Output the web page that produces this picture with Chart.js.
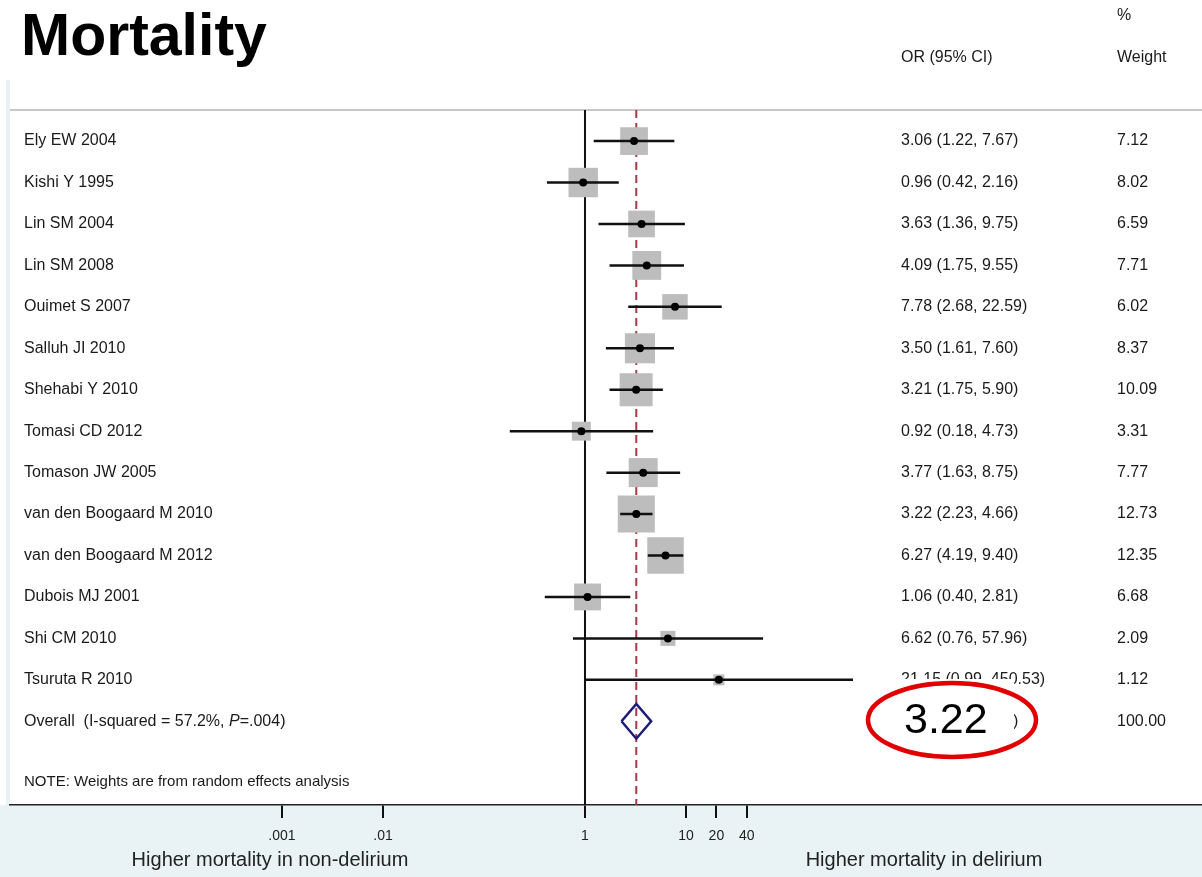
<!DOCTYPE html>
<html>
<head>
<meta charset="utf-8">
<script src="https://cdn.jsdelivr.net/npm/chart.js@4.4.1/dist/chart.umd.min.js"></script>
<style>
  body { margin: 0; background: #fff; }
  canvas { display: block; }
</style>
</head>
<body>
<canvas id="forest" width="1202" height="877"></canvas>
<script>
// studies, top to bottom
const studies = ['Ely EW 2004', 'Kishi Y 1995', 'Lin SM 2004', 'Lin SM 2008', 'Ouimet S 2007',
  'Salluh JI 2010', 'Shehabi Y 2010', 'Tomasi CD 2012', 'Tomason JW 2005', 'van den Boogaard M 2010',
  'van den Boogaard M 2012', 'Dubois MJ 2001', 'Shi CM 2010', 'Tsuruta R 2010']
const oddsRatio = [3.06, 0.96, 3.63, 4.09, 7.78, 3.50, 3.21, 0.92, 3.77, 3.22, 6.27, 1.06, 6.62, 21.15]
const ciLow = [1.22, 0.42, 1.36, 1.75, 2.68, 1.61, 1.75, 0.18, 1.63, 2.23, 4.19, 0.40, 0.76, 0.99]
const ciHigh = [7.67, 2.16, 9.75, 9.55, 22.59, 7.60, 5.90, 4.73, 8.75, 4.66, 9.40, 2.81, 57.96, 450.53]
const weights = [7.12, 8.02, 6.59, 7.71, 6.02, 8.37, 10.09, 3.31, 7.77, 12.73, 12.35, 6.68, 2.09, 1.12]

const overallOR = 3.22
const overallLow = 2.30
const overallHigh = 4.52
const overallWeight = 100.00

const tickVals = [0.001, 0.01, 1, 10, 20, 40]
const tickLabels = ['.001', '.01', '1', '10', '20', '40']

const FONT = "'Liberation Sans', Arial, sans-serif"
const overallRow = studies.length
const noteRow = 15.45

// ci lines, one per study
const ciSets = studies.map((s, i) => ({
  type: 'line',
  data: [{x: ciLow[i], y: i}, {x: ciHigh[i], y: i}],
  borderColor: '#111',
  borderWidth: 2.5,
  pointRadius: 0,
  order: 1
}))

const datasets = [
  {
    type: 'scatter',
    data: oddsRatio.map((v, i) => ({x: v, y: i})),
    pointStyle: 'circle',
    pointRadius: 4,
    backgroundColor: '#000',
    borderWidth: 0,
    order: 0
  },
  ...ciSets,
  {
    type: 'scatter',
    data: oddsRatio.map((v, i) => ({x: v, y: i})),
    pointStyle: 'rect',
    pointRadius: ctx => 7.35 * Math.sqrt(weights[ctx.dataIndex]),
    backgroundColor: '#bdbdbd',
    borderWidth: 0,
    order: 2
  },
  {
    // overall diamond
    type: 'line',
    data: [
      {x: overallLow, y: overallRow}, {x: overallOR, y: overallRow - 0.42},
      {x: overallHigh, y: overallRow}, {x: overallOR, y: overallRow + 0.42},
      {x: overallLow, y: overallRow}
    ],
    borderColor: '#1c1c78',
    borderWidth: 2.5,
    pointRadius: 0,
    fill: false,
    order: 1
  },
  {
    // line of no effect
    type: 'line',
    data: [{x: 1, y: -0.75}, {x: 1, y: 16.02}],
    borderColor: '#111',
    borderWidth: 2,
    pointRadius: 0,
    order: 3
  },
  {
    // overall estimate
    type: 'line',
    data: [{x: overallOR, y: -0.75}, {x: overallOR, y: 16.02}],
    borderColor: '#a23a4a',
    borderWidth: 2,
    borderDash: [8, 5],
    pointRadius: 0,
    order: 3
  }
]

const textPlugin = {
  id: 'forestText',
  beforeDraw(chart) {
    const ctx = chart.ctx
    ctx.save()
    ctx.fillStyle = '#e9f2f4'
    ctx.fillRect(0, chart.chartArea.bottom, chart.width, chart.height - chart.chartArea.bottom)
    ctx.fillRect(6, 80, 4, chart.chartArea.bottom - 80)
    ctx.strokeStyle = '#c8c8c8'
    ctx.lineWidth = 2
    ctx.beginPath()
    ctx.moveTo(10, chart.chartArea.top)
    ctx.lineTo(chart.width, chart.chartArea.top)
    ctx.stroke()
    ctx.restore()
  },
  afterDraw(chart) {
    const ctx = chart.ctx
    const y = chart.scales.y
    ctx.save()

    // title
    ctx.fillStyle = '#000'
    ctx.font = 'bold 59px ' + FONT
    ctx.textBaseline = 'alphabetic'
    ctx.fillText('Mortality', 21, 55)

    ctx.textBaseline = 'middle'
    ctx.font = '16px ' + FONT
    ctx.fillStyle = '#1a1a1a'
    ctx.fillText('%', 1117, 16)
    ctx.fillText('OR (95% CI)', 901, 58)
    ctx.fillText('Weight', 1117, 58)

    studies.forEach((s, i) => {
      const py = y.getPixelForValue(i)
      ctx.fillText(s, 24, py)
      ctx.fillText(oddsRatio[i].toFixed(2) + ' (' + ciLow[i].toFixed(2) + ', ' + ciHigh[i].toFixed(2) + ')', 901, py)
      ctx.fillText(weights[i].toFixed(2), 1117, py)
    })

    // overall row
    let py = y.getPixelForValue(overallRow)
    let part1 = 'Overall  (I-squared = 57.2%, '
    ctx.fillText(part1, 24, py)
    let px = 24 + ctx.measureText(part1).width
    ctx.font = 'italic 16px ' + FONT
    ctx.fillText('P', px, py)
    px += ctx.measureText('P').width
    ctx.font = '16px ' + FONT
    ctx.fillText('=.004)', px, py)
    ctx.fillText(overallOR.toFixed(2) + ' (' + overallLow.toFixed(2) + ', ' + overallHigh.toFixed(2) + ')', 901, py)
    ctx.fillText(overallWeight.toFixed(2), 1117, py)

    ctx.font = '15px ' + FONT
    ctx.fillText('NOTE: Weights are from random effects analysis', 24, y.getPixelForValue(noteRow))

    // axis captions
    ctx.font = '20px ' + FONT
    ctx.textAlign = 'center'
    ctx.fillStyle = '#222'
    ctx.fillText('Higher mortality in non-delirium', 270, 860)
    ctx.fillText('Higher mortality in delirium', 924, 860)

    // highlight box over the overall estimate
    ctx.fillStyle = '#fff'
    ctx.fillRect(880, 679, 134, 82)
    ctx.strokeStyle = '#e00000'
    ctx.lineWidth = 4.5
    ctx.beginPath()
    ctx.ellipse(952, 720, 84, 37, 0, 0, Math.PI * 2)
    ctx.stroke()
    ctx.fillStyle = '#000'
    ctx.font = '43px ' + FONT
    ctx.textAlign = 'left'
    ctx.textBaseline = 'alphabetic'
    ctx.fillText(overallOR.toFixed(2), 904, 733)

    ctx.restore()
  }
}

new Chart(document.getElementById('forest'), {
  data: { datasets: datasets },
  options: {
    responsive: false,
    animation: false,
    devicePixelRatio: 1,
    layout: { autoPadding: false, padding: { top: 110, left: 10, right: 0, bottom: 0 } },
    plugins: { legend: { display: false }, tooltip: { enabled: false } },
    scales: {
      x: {
        type: 'logarithmic',
        min: Math.pow(10, -5.693),
        max: Math.pow(10, 6.109),
        afterBuildTicks: s => { s.ticks = tickVals.map(v => ({ value: v })) },
        afterFit: s => {
          s.height = 72
          s.paddingLeft = 0
          s.paddingRight = 0
        },
        ticks: {
          callback: (v, i) => tickLabels[i],
          color: '#222',
          font: { family: FONT, size: 14 },
          padding: 10,
          maxRotation: 0,
          autoSkip: false
        },
        grid: { drawOnChartArea: false, color: '#111', lineWidth: 2, tickLength: 13 },
        border: { color: '#222', width: 1.5 }
      },
      y: {
        type: 'linear',
        reverse: true,
        min: -0.75,
        max: 16.02,
        display: false
      }
    }
  },
  plugins: [textPlugin]
})
</script>
</body>
</html>
